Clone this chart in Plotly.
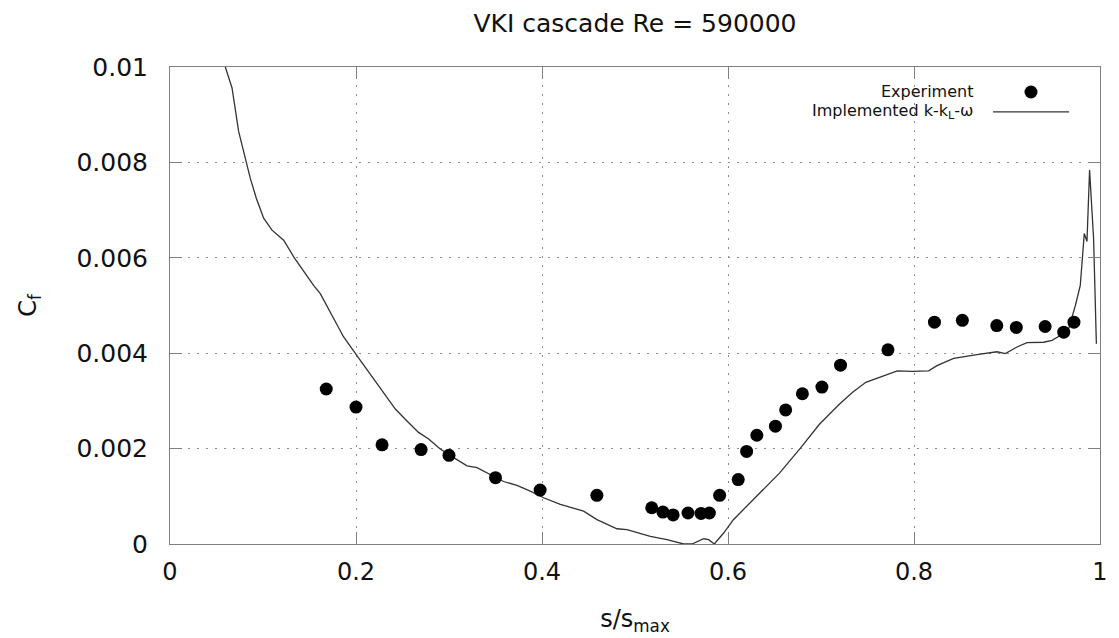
import plotly.graph_objects as go

# Experimental data
exp_s = [0.168, 0.200, 0.228, 0.270, 0.300, 0.350, 0.398, 0.459, 0.518, 0.530, 0.541,
         0.557, 0.571, 0.580, 0.591, 0.611, 0.620, 0.631, 0.651, 0.662, 0.680, 0.701,
         0.721, 0.772, 0.822, 0.852, 0.889, 0.910, 0.941, 0.961, 0.972]
exp_cf = [0.00325, 0.00287, 0.00208, 0.00198, 0.00186, 0.00139, 0.00113, 0.00102, 0.00076,
          0.00067, 0.00061, 0.00065, 0.00064, 0.00065, 0.00102, 0.00135, 0.00194, 0.00228,
          0.00247, 0.00281, 0.00315, 0.00329, 0.00375, 0.00407, 0.00465, 0.00469, 0.00458,
          0.00454, 0.00456, 0.00444, 0.00465]

# Model curve (Implemented k-kL-omega)
mod_s = [0.0595, 0.0667, 0.0738, 0.0817, 0.0863, 0.0928, 0.1007, 0.1097, 0.1222, 0.1337,
         0.1437, 0.1544, 0.1616, 0.1742, 0.1867, 0.2035, 0.2189, 0.2315, 0.2423, 0.2548,
         0.2673, 0.2781, 0.2906, 0.3050, 0.3194, 0.3301, 0.3444, 0.3587, 0.3731, 0.3874,
         0.4017, 0.4197, 0.4447, 0.4591, 0.4806, 0.4914, 0.5165, 0.5344, 0.5523, 0.5613,
         0.5738, 0.5792, 0.5853, 0.5953, 0.6058, 0.6272, 0.6556, 0.6770, 0.6983, 0.7197,
         0.7340, 0.7482, 0.7642, 0.7820, 0.7980, 0.8158, 0.8247, 0.8426,
         0.8677, 0.8892, 0.8982, 0.9108, 0.9215, 0.9394, 0.9484, 0.9573, 0.9663, 0.9735,
         0.9788, 0.9831, 0.9860, 0.9888, 0.9931, 0.9961]
mod_cf = [0.01000, 0.00956, 0.00865, 0.00800, 0.00767, 0.00725, 0.00683, 0.00658, 0.00637, 0.00600,
          0.00571, 0.00542, 0.00525, 0.00479, 0.00434, 0.00388, 0.00346, 0.00314, 0.00283, 0.00258,
          0.00234, 0.00220, 0.00199, 0.00181, 0.00164, 0.00160, 0.00145, 0.00131, 0.00123, 0.00111,
          0.00097, 0.00083, 0.00069, 0.00051, 0.00032, 0.00030, 0.00016, 0.00009, 0.00000, 0.00000,
          0.00011, 0.00009, 0.00000, 0.00023, 0.00051, 0.00093, 0.00149, 0.00199, 0.00251, 0.00293,
          0.00318, 0.00339, 0.00350, 0.00363, 0.00362, 0.00363, 0.00374, 0.00389,
          0.00397, 0.00403, 0.00399, 0.00413, 0.00422, 0.00423, 0.00427, 0.00437, 0.00451, 0.00500,
          0.00542, 0.00651, 0.00634, 0.00784, 0.00641, 0.00420]

x_ticks = [0, 0.2, 0.4, 0.6, 0.8, 1.0]
x_ticktext = ["0", "0.2", "0.4", "0.6", "0.8", "1"]
y_ticks = [0, 0.002, 0.004, 0.006, 0.008, 0.01]
y_ticktext = ["0", "0.002", "0.004", "0.006", "0.008", "0.01"]

FONT = "DejaVu Sans"
AXCOL = "#808080"
GRIDCOL = "#8c8c8c"
TXT = "#111111"

fig = go.Figure()
fig.add_trace(go.Scatter(
    x=mod_s, y=mod_cf, mode="lines", name="Implemented k-k<sub>L</sub>-ω",
    line=dict(color="#333333", width=1.3), showlegend=False))
fig.add_trace(go.Scatter(
    x=exp_s, y=exp_cf, mode="markers", name="Experiment",
    marker=dict(color="black", size=13, line=dict(width=0)), showlegend=False))

axis_common = dict(
    showline=True, linecolor=AXCOL, linewidth=1, mirror="ticks",
    ticks="inside", ticklen=12, tickcolor=AXCOL, tickwidth=1,
    showgrid=True, gridcolor=GRIDCOL, gridwidth=1, griddash="2px,7px",
    zeroline=False,
)

fig.update_xaxes(range=[0, 1], tickvals=x_ticks, ticktext=x_ticktext,
                 tickfont=dict(family=FONT, size=24, color=TXT),
                 title=dict(text="s/s<sub>max</sub>", font=dict(family=FONT, size=24, color=TXT), standoff=25),
                 ticklabelstandoff=6, **axis_common)
fig.update_yaxes(range=[0, 0.01], tickvals=y_ticks, ticktext=y_ticktext,
                 tickfont=dict(family=FONT, size=25, color=TXT),
                 title=dict(text="C<sub>f</sub>", font=dict(family=FONT, size=24, color=TXT), standoff=33),
                 ticklabelstandoff=16, **axis_common)

# Legend (gnuplot style: text right-aligned, key sample to the right)
fig.add_shape(type="rect", xref="paper", yref="paper", x0=0.70, x1=0.995, y0=0.885, y1=0.998,
              fillcolor="white", line=dict(width=0), layer="between")
fig.add_annotation(text="Experiment", xref="paper", yref="paper", x=0.8658, y=0.9476,
                   xanchor="right", yanchor="middle", showarrow=False,
                   font=dict(family=FONT, size=16, color=TXT))
fig.add_annotation(text="Implemented k-k<sub>L</sub>-ω", xref="paper", yref="paper", x=0.8658, y=0.9058,
                   xanchor="right", yanchor="middle", showarrow=False,
                   font=dict(family=FONT, size=16, color=TXT))
fig.add_shape(type="circle", xref="paper", yref="paper", xsizemode="pixel", ysizemode="pixel",
              xanchor=0.9258, yanchor=0.9476, x0=-6.5, x1=6.5, y0=-6.5, y1=6.5,
              fillcolor="black", line=dict(width=0))
fig.add_shape(type="line", xref="paper", yref="paper", x0=0.885, x1=0.9668, y0=0.9058, y1=0.9058,
              line=dict(color="#333333", width=1.3))

fig.update_layout(
    width=1119, height=638,
    margin=dict(l=162, r=27, t=59, b=102),
    paper_bgcolor="white", plot_bgcolor="white",
    title=dict(text="VKI cascade Re = 590000", x=0.5, xref="paper", y=0.9765, yanchor="middle",
               font=dict(family=FONT, size=25, color=TXT)),
    font=dict(family=FONT),
)

fig.write_html("out.html")
